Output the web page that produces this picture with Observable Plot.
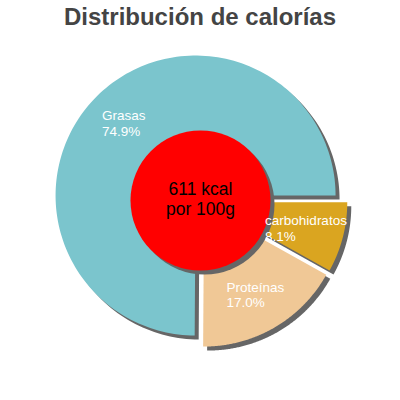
<!DOCTYPE html>
<html><head><meta charset="utf-8">
<script src="https://cdn.jsdelivr.net/npm/d3@7"></script>
<script src="https://cdn.jsdelivr.net/npm/@observablehq/plot@0.6"></script>
<style>
body{margin:0;background:#fff;}
#title{font:bold 24px 'Liberation Sans',Arial,sans-serif;color:#444;text-align:center;height:36px;line-height:30px;padding-top:2px;box-sizing:border-box;margin:0;}
#chart svg{display:block;}
</style></head><body>
<div id="title">Distribución de calorías</div>
<div id="chart"></div>
<script>
// Data
const categories = ["carbohidratos", "Proteínas", "Grasas"];
const values = [8.1, 17.0, 74.9];
const colors = ["#daa520", "#f0c896", "#7bc5cd"];
const centerLines = ["611 kcal", "por 100g"];

// Layout
const W = 400, H = 364;
const R = 140, EXPLODE = 7, LABEL_R = 102, CORE_R = 70, SHADOW = 4;
const LABEL_FONT = 13.5;
const FONT = "'Liberation Sans', Arial, sans-serif";

const data = categories.map((c, i) => ({key: c, value: values[i]}));
const total = d3.sum(values);
const pie = d3.pie().sort(null).value(d => d.value)
  .startAngle(Math.PI / 2).endAngle(Math.PI / 2 + 2 * Math.PI);
const arcs = pie(data);

const slicePts = [], shadowPts = [], labels = [];
const ctx = document.createElement("canvas").getContext("2d");
ctx.font = `${LABEL_FONT}px ${FONT}`;

arcs.forEach(a => {
  const mid = (a.startAngle + a.endAngle) / 2;
  const ox = EXPLODE * Math.sin(mid), oy = -EXPLODE * Math.cos(mid);
  const n = 160;
  const pts = [[ox, oy]];
  for (let i = 0; i <= n; i++) {
    const t = a.startAngle + (a.endAngle - a.startAngle) * i / n;
    pts.push([ox + R * Math.sin(t), oy - R * Math.cos(t)]);
  }
  pts.forEach(([x, y]) => {
    slicePts.push({key: a.data.key, x, y});
    shadowPts.push({key: a.data.key, x: x + SHADOW, y: y + SHADOW});
  });
  const pct = (a.data.value / total * 100).toFixed(1) + "%";
  const lines = [a.data.key, pct];
  const w = d3.max(lines, l => ctx.measureText(l).width);
  labels.push({
    x: ox + LABEL_R * Math.sin(mid) - w / 2,
    y: oy - LABEL_R * Math.cos(mid),
    text: lines.join("\n")
  });
});

const chart = Plot.plot({
  width: W, height: H,
  margin: 0,
  x: {type: "linear", domain: [-200, 200], range: [0, W], axis: null},
  y: {type: "linear", domain: [-164, 200], range: [0, H], axis: null},
  color: {domain: categories, range: colors},
  style: {fontFamily: FONT, background: "white", overflow: "visible"},
  marks: [
    Plot.line(shadowPts, {x: "x", y: "y", z: "key", fill: "#666", stroke: "none", curve: "linear-closed"}),
    Plot.line(slicePts, {x: "x", y: "y", z: "key", fill: "key", stroke: "none", curve: "linear-closed"}),
    Plot.dot([0], {x: () => SHADOW, y: () => SHADOW, r: CORE_R, fill: "#666", stroke: "none"}),
    Plot.dot([0], {x: () => 0, y: () => 0, r: CORE_R, fill: "red", stroke: "none"}),
    Plot.text([centerLines.join("\n")], {x: () => 0, y: () => 0, text: d => d, dy: -2, fontSize: 17.5, fill: "black", lineAnchor: "middle", lineHeight: 1.15}),
    Plot.text(labels, {x: "x", y: "y", text: "text", textAnchor: "start", lineAnchor: "middle", fill: "white", fontSize: LABEL_FONT, lineHeight: 1.15})
  ]
});
document.getElementById("chart").appendChild(chart);
</script>
</body></html>
